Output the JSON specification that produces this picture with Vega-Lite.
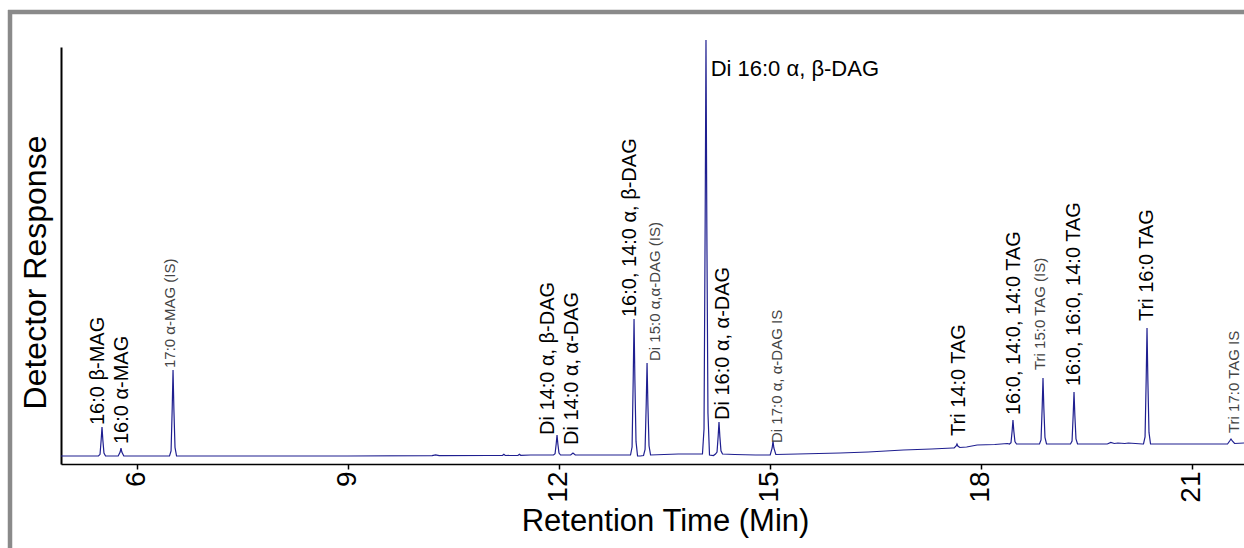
{
  "$schema": "https://vega.github.io/schema/vega-lite/v6.json",
  "width": 1183,
  "height": 417,
  "autosize": {"type": "none"},
  "padding": {"left": 61, "top": 47, "right": 0, "bottom": 84},
  "background": "white",
  "config": {
    "view": {"stroke": null},
    "font": "Liberation Sans",
    "axis": {"grid": false}
  },
  "datasets": {
    "trace": [
      {"t": 4.923, "v": 0}, {"t": 5.3, "v": 0},
      {"t": 5.456, "v": 0}, {"t": 5.478, "v": 1.7}, {"t": 5.494, "v": 16}, {"t": 5.506, "v": 29}, {"t": 5.518, "v": 16}, {"t": 5.534, "v": 2.9}, {"t": 5.556, "v": 0},
      {"t": 5.65, "v": 0},
      {"t": 5.736, "v": 0}, {"t": 5.764, "v": 4}, {"t": 5.776, "v": 8}, {"t": 5.788, "v": 4}, {"t": 5.816, "v": 0},
      {"t": 6.2, "v": 0},
      {"t": 6.466, "v": 0}, {"t": 6.488, "v": 5}, {"t": 6.504, "v": 47}, {"t": 6.516, "v": 86}, {"t": 6.528, "v": 47}, {"t": 6.544, "v": 8.6}, {"t": 6.566, "v": 0},
      {"t": 7.5, "v": 0}, {"t": 9.0, "v": 0}, {"t": 10.2, "v": 0.3}, {"t": 10.25, "v": 1.2}, {"t": 10.3, "v": 0.3},
      {"t": 11.0, "v": 0.5}, {"t": 11.2, "v": 0.5}, {"t": 11.22, "v": 1.8}, {"t": 11.24, "v": 0.5},
      {"t": 11.42, "v": 0.6}, {"t": 11.44, "v": 1.8}, {"t": 11.46, "v": 0.7}, {"t": 11.6, "v": 1}, {"t": 11.85, "v": 1},
      {"t": 11.926, "v": 1}, {"t": 11.948, "v": 2.2}, {"t": 11.964, "v": 12}, {"t": 11.976, "v": 21}, {"t": 11.988, "v": 12}, {"t": 12.004, "v": 3}, {"t": 12.026, "v": 1},
      {"t": 12.1, "v": 1},
      {"t": 12.17, "v": 1}, {"t": 12.203, "v": 3}, {"t": 12.236, "v": 1},
      {"t": 12.6, "v": 1}, {"t": 12.95, "v": 1},
      {"t": 13.021, "v": 1}, {"t": 13.043, "v": 9}, {"t": 13.059, "v": 76}, {"t": 13.071, "v": 137}, {"t": 13.083, "v": 76}, {"t": 13.099, "v": 14.6}, {"t": 13.121, "v": 0},
      {"t": 13.16, "v": 0},
      {"t": 13.206, "v": 0.5}, {"t": 13.228, "v": 6.5}, {"t": 13.244, "v": 51.6}, {"t": 13.256, "v": 93}, {"t": 13.268, "v": 51.6}, {"t": 13.284, "v": 10.2}, {"t": 13.306, "v": 1},
      {"t": 13.5, "v": 1.5}, {"t": 13.7, "v": 2}, {"t": 14.0, "v": 2},
      {"t": 14.044, "v": 2}, {"t": 14.066, "v": 27}, {"t": 14.082, "v": 230}, {"t": 14.094, "v": 416}, {"t": 14.106, "v": 230}, {"t": 14.122, "v": 43}, {"t": 14.144, "v": 1},
      {"t": 14.2, "v": 0.5},
      {"t": 14.229, "v": 2}, {"t": 14.251, "v": 4}, {"t": 14.267, "v": 19.6}, {"t": 14.279, "v": 34}, {"t": 14.291, "v": 19.6}, {"t": 14.307, "v": 5.2}, {"t": 14.329, "v": 2},
      {"t": 14.5, "v": 1.5}, {"t": 14.8, "v": 1},
      {"t": 15.007, "v": 1}, {"t": 15.035, "v": 8}, {"t": 15.047, "v": 15}, {"t": 15.059, "v": 8}, {"t": 15.087, "v": 1.5},
      {"t": 15.4, "v": 2}, {"t": 16.0, "v": 3}, {"t": 16.4, "v": 4}, {"t": 16.9, "v": 6}, {"t": 17.3, "v": 7}, {"t": 17.6, "v": 8},
      {"t": 17.623, "v": 8}, {"t": 17.651, "v": 10}, {"t": 17.663, "v": 12}, {"t": 17.675, "v": 10}, {"t": 17.703, "v": 8.5},
      {"t": 17.8, "v": 9}, {"t": 17.95, "v": 11}, {"t": 18.2, "v": 11.5}, {"t": 18.38, "v": 12.5},
      {"t": 18.409, "v": 12}, {"t": 18.431, "v": 13.4}, {"t": 18.447, "v": 25}, {"t": 18.459, "v": 36}, {"t": 18.471, "v": 25}, {"t": 18.487, "v": 14.4}, {"t": 18.509, "v": 12},
      {"t": 18.7, "v": 12},
      {"t": 18.836, "v": 12}, {"t": 18.858, "v": 16}, {"t": 18.874, "v": 48}, {"t": 18.886, "v": 78}, {"t": 18.898, "v": 48}, {"t": 18.914, "v": 18.6}, {"t": 18.936, "v": 12},
      {"t": 19.1, "v": 12},
      {"t": 19.277, "v": 12}, {"t": 19.299, "v": 15}, {"t": 19.315, "v": 40.6}, {"t": 19.327, "v": 64}, {"t": 19.339, "v": 40.6}, {"t": 19.355, "v": 17.2}, {"t": 19.377, "v": 12},
      {"t": 19.8, "v": 12}, {"t": 19.85, "v": 13.5}, {"t": 19.9, "v": 12.5}, {"t": 19.95, "v": 13}, {"t": 20.05, "v": 12.5}, {"t": 20.1, "v": 13}, {"t": 20.3, "v": 12},
      {"t": 20.315, "v": 12}, {"t": 20.337, "v": 19}, {"t": 20.353, "v": 76}, {"t": 20.365, "v": 128}, {"t": 20.377, "v": 76}, {"t": 20.393, "v": 23.6}, {"t": 20.415, "v": 12},
      {"t": 21.0, "v": 12}, {"t": 21.5, "v": 12},
      {"t": 21.51, "v": 12}, {"t": 21.54, "v": 15}, {"t": 21.559, "v": 17}, {"t": 21.578, "v": 15}, {"t": 21.61, "v": 12.5},
      {"t": 21.744, "v": 13}
    ],
    "labels": [
      {"label": "16:0 β-MAG", "lt": 5.456, "ly": 29, "kind": "big"},
      {"label": "16:0 α-MAG", "lt": 5.784, "ly": 10, "kind": "big"},
      {"label": "17:0 α-MAG (IS)", "lt": 6.473, "ly": 86, "kind": "small"},
      {"label": "Di 14:0 α, β-DAG", "lt": 11.848, "ly": 19, "kind": "big"},
      {"label": "Di 14:0 α, α-DAG", "lt": 12.182, "ly": 9, "kind": "big"},
      {"label": "16:0, 14:0 α, β-DAG", "lt": 13.014, "ly": 137, "kind": "big"},
      {"label": "Di 15:0 α,α-DAG (IS)", "lt": 13.37, "ly": 93, "kind": "small"},
      {"label": "Di 16:0 α, β-DAG", "lt": 14.16, "ly": 380, "kind": "h"},
      {"label": "Di 16:0 α, α-DAG", "lt": 14.336, "ly": 34, "kind": "big"},
      {"label": "Di 17:0 α, α-DAG IS", "lt": 15.11, "ly": 11, "kind": "small"},
      {"label": "Tri 14:0 TAG", "lt": 17.685, "ly": 18, "kind": "big"},
      {"label": "16:0, 14:0, 14:0 TAG", "lt": 18.467, "ly": 39, "kind": "big"},
      {"label": "Tri 15:0 TAG (IS)", "lt": 18.843, "ly": 84, "kind": "small"},
      {"label": "16:0, 16:0, 14:0 TAG", "lt": 19.327, "ly": 68, "kind": "big"},
      {"label": "Tri 16:0 TAG", "lt": 20.358, "ly": 133, "kind": "big"},
      {"label": "Tri 17:0 TAG IS", "lt": 21.595, "ly": 21, "kind": "small"}
    ]
  },
  "layer": [
    {
      "data": {"values": [{"frame": "left"}]},
      "mark": {"type": "rule", "stroke": "#8a8a8a", "strokeWidth": 4.5},
      "encoding": {
        "x": {"datum": 4.198, "type": "quantitative"},
        "y": {"datum": 446, "type": "quantitative"},
        "y2": {"datum": -140}
      }
    },
    {
      "data": {"values": [{"frame": "top"}]},
      "mark": {"type": "rule", "stroke": "#8a8a8a", "strokeWidth": 4.5},
      "encoding": {
        "x": {"datum": 4.17, "type": "quantitative"},
        "x2": {"datum": 22.2},
        "y": {"datum": 444, "type": "quantitative"}
      }
    },
    {
      "data": {"name": "trace"},
      "mark": {"type": "line", "stroke": "#1f1f90", "strokeWidth": 1.2, "interpolate": "linear"},
      "encoding": {
        "x": {
          "field": "t", "type": "quantitative",
          "scale": {"domain": [4.923, 21.744], "nice": false, "zero": false},
          "axis": {
            "values": [6, 9, 12, 15, 18, 21],
            "format": "d",
            "labelAngle": 270,
            "labelAlign": "right",
            "labelBaseline": "middle",
            "labelFontSize": 28,
            "labelFont": "Liberation Sans",
            "labelColor": "#000000",
            "labelPadding": 2,
            "tickSize": 5,
            "tickColor": "#000000",
            "tickWidth": 1.5,
            "domainColor": "#000000",
            "domainWidth": 1.5,
            "title": "Retention Time (Min)",
            "titleFont": "Liberation Sans",
            "titleFontSize": 31,
            "titleFontWeight": "normal",
            "titleColor": "#000000",
            "titleX": 604,
            "titleY": 66,
            "titleBaseline": "alphabetic",
            "titleAnchor": "middle"
          }
        },
        "y": {
          "field": "v", "type": "quantitative",
          "scale": {"domain": [-8, 409], "nice": false, "zero": false},
          "axis": {
            "labels": false,
            "ticks": false,
            "domainColor": "#000000",
            "domainWidth": 2,
            "title": "Detector Response",
            "titleFont": "Liberation Sans",
            "titleFontSize": 32,
            "titleFontWeight": "normal",
            "titleColor": "#000000",
            "titleAngle": 270,
            "titleX": -16,
            "titleY": 225,
            "titleAlign": "center",
            "titleBaseline": "alphabetic"
          }
        }
      }
    },
    {
      "data": {"name": "labels"},
      "transform": [{"filter": "datum.kind === 'big'"}],
      "mark": {"type": "text", "angle": 270, "align": "left", "baseline": "middle", "dx": 2, "fontSize": 20, "font": "Liberation Sans", "color": "#000000"},
      "encoding": {
        "x": {"field": "lt", "type": "quantitative"},
        "y": {"field": "ly", "type": "quantitative"},
        "text": {"field": "label"}
      }
    },
    {
      "data": {"name": "labels"},
      "transform": [{"filter": "datum.kind === 'small'"}],
      "mark": {"type": "text", "angle": 270, "align": "left", "baseline": "middle", "dx": 2, "fontSize": 15, "font": "Liberation Sans", "color": "#444444"},
      "encoding": {
        "x": {"field": "lt", "type": "quantitative"},
        "y": {"field": "ly", "type": "quantitative"},
        "text": {"field": "label"}
      }
    },
    {
      "data": {"name": "labels"},
      "transform": [{"filter": "datum.kind === 'h'"}],
      "mark": {"type": "text", "align": "left", "baseline": "alphabetic", "fontSize": 22, "font": "Liberation Sans", "color": "#000000"},
      "encoding": {
        "x": {"field": "lt", "type": "quantitative"},
        "y": {"field": "ly", "type": "quantitative"},
        "text": {"field": "label"}
      }
    }
  ]
}
